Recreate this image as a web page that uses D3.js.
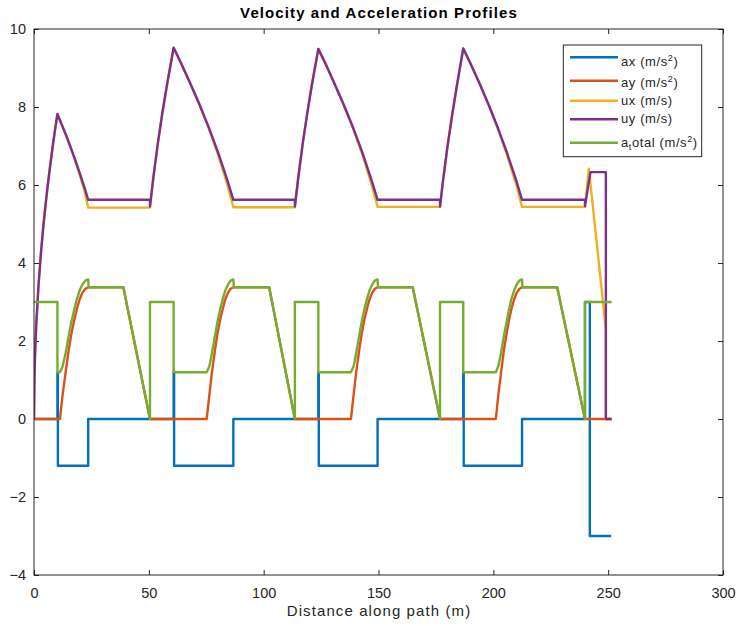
<!DOCTYPE html>
<html>
<head>
<meta charset="utf-8">
<script src="https://cdn.jsdelivr.net/npm/d3@7"></script>
<style>
  html, body { margin: 0; padding: 0; background: #fff; }
  svg { display: block; }
  text { font-family: "Liberation Sans", Arial, Helvetica, sans-serif; }
</style>
</head>
<body>
<svg id="chart" width="738" height="626"></svg>
<script>
// ---------------- DATA ----------------
const titleText = "Velocity and Acceleration Profiles";
const xLabelText = "Distance along path (m)";
const xTicks = [0, 50, 100, 150, 200, 250, 300];
const yTicks = [-4, -2, 0, 2, 4, 6, 8, 10];

const axX = [0,10.2,10.2,10.4,10.4,23.6,23.6,60.8,60.8,61.0,61.0,86.8,86.8,123.8,123.8,124.0,124.0,149.6,149.6,186.9,186.9,187.1,187.1,212.5,212.5,239.9,239.9,242.0,242.0,251.3];
const axY = [0,0,1.2,1.2,-1.2,-1.2,0,0,1.2,1.2,-1.2,-1.2,0,0,1.2,1.2,-1.2,-1.2,0,0,1.2,1.2,-1.2,-1.2,0,0,3,3,-3,-3];

const ayX = [0, 11.3,12.5,13.8,15.0,16.2,17.5,18.7,19.9,21.1,22.4,23.6, 38.9, 50.5,
  75.2,76.4,77.5,78.7,79.8,81.0,82.2,83.3,84.5,85.6,86.8, 102.4, 113.6,
  138.0,139.2,140.3,141.5,142.6,143.8,145.0,146.1,147.3,148.4,149.6, 164.9, 176.8,
  201.1,202.2,203.4,204.5,205.7,206.8,207.9,209.1,210.2,211.4,212.5, 227.8, 239.9, 251.5];
const ayY = [0, 0,0.64,1.21,1.72,2.16,2.53,2.83,3.07,3.24,3.34,3.38, 3.38, 0,
  0,0.64,1.21,1.72,2.16,2.53,2.83,3.07,3.24,3.34,3.38, 3.38, 0,
  0,0.64,1.21,1.72,2.16,2.53,2.83,3.07,3.24,3.34,3.38, 3.38, 0,
  0,0.64,1.21,1.72,2.16,2.53,2.83,3.07,3.24,3.34,3.38, 3.38, 0, 0];

const uxX = [0,0.2,0.5,1,2,3,4,5,6,7,8,9,10.2, 12,14,16,18,20,22,23.6, 50.5,
  52,54,56,58,60.8, 64,68,72,76,80,84,86.8, 113.6,
  115,117,119,121,123.8, 127,131,135,139,143,147,149.6, 176.8,
  178,180,182,184,186.9, 190,194,198,202,206,210,212.5, 239.9, 241.6, 249.0,249.0, 251.5];
const uxY = [0,1.10,1.73,2.45,3.46,4.24,4.90,5.48,6.00,6.48,6.93,7.35,7.82, 7.56,7.27,6.96,6.62,6.24,5.84,5.42, 5.42,
  6.21,7.10,7.89,8.60,9.52, 9.13,8.61,8.07,7.47,6.80,6.05,5.43, 5.43,
  6.16,7.06,7.85,8.57,9.49, 9.10,8.58,8.04,7.44,6.77,6.01,5.44, 5.44,
  6.07,6.97,7.77,8.50,9.50, 9.12,8.60,8.05,7.44,6.76,6.00,5.44, 5.44, 6.42, 2.30,0, 0];

const uyX = [0,0.2,0.5,1,2,3,4,5,6,7,8,9,10.2, 12,14,16,18,20,22,23.6, 50.5,50.5,
  52,54,56,58,60.8, 64,68,72,76,80,84,86.8, 113.6,113.6,
  115,117,119,121,123.8, 127,131,135,139,143,147,149.6, 176.8,176.8,
  178,180,182,184,186.9, 190,194,198,202,206,210,212.5, 239.9,239.9, 242.3, 249.0,249.0, 251.5];
const uyY = [0,1.10,1.73,2.45,3.46,4.24,4.90,5.48,6.00,6.48,6.93,7.35,7.82, 7.56,7.27,6.96,6.63,6.29,5.93,5.62, 5.62,5.45,
  6.21,7.10,7.89,8.60,9.52, 9.13,8.61,8.07,7.49,6.86,6.16,5.62, 5.62,5.45,
  6.16,7.06,7.85,8.57,9.49, 9.10,8.58,8.04,7.46,6.83,6.12,5.62, 5.62,5.45,
  6.07,6.97,7.77,8.50,9.50, 9.12,8.60,8.05,7.46,6.82,6.11,5.62, 5.62,5.46, 6.33, 6.33,0, 0];

const atX = [0,10.2,10.2, 11.3,12.5,13.8,15.0,16.2,17.5,18.7,19.9,21.1,22.4,23.6, 23.8, 38.9,
  50.5,50.5,60.8,60.8, 75.2,76.4,77.5,78.7,79.8,81.0,82.2,83.3,84.5,85.6,86.8, 87.0, 102.4,
  113.6,113.6,123.8,123.8, 138.0,139.2,140.3,141.5,142.6,143.8,145.0,146.1,147.3,148.4,149.6, 149.8, 164.9,
  176.8,176.8,186.9,186.9, 201.1,202.2,203.4,204.5,205.7,206.8,207.9,209.1,210.2,211.4,212.5, 212.7, 227.8,
  239.9,239.9,251.5];
const atY = [3,3,1.2, 1.2,1.36,1.70,2.10,2.47,2.80,3.08,3.30,3.45,3.55,3.58, 3.38, 3.38,
  0,3,3,1.2, 1.2,1.36,1.70,2.10,2.47,2.80,3.08,3.30,3.45,3.55,3.58, 3.38, 3.38,
  0,3,3,1.2, 1.2,1.36,1.70,2.10,2.47,2.80,3.08,3.30,3.45,3.55,3.58, 3.38, 3.38,
  0,3,3,1.2, 1.2,1.36,1.70,2.10,2.47,2.80,3.08,3.30,3.45,3.55,3.58, 3.38, 3.38,
  0,3,3];

const seriesNames = ["ax", "ay", "ux", "uy", "atotal"];
const seriesColors = ["#0072BD", "#D95319", "#EDB120", "#7E2F8E", "#77AC30"];
// legend label parts: [text, kind]
const legendLabels = [
  [["ax (m/s", ""], ["2", "sup"], [")", ""]],
  [["ay (m/s", ""], ["2", "sup"], [")", ""]],
  [["ux (m/s)", ""]],
  [["uy (m/s)", ""]],
  [["a", ""], ["t", "sub"], ["otal (m/s", ""], ["2", "sup"], [")", ""]]
];

// ---------------- LAYOUT ----------------
const W = 738, H = 626;
const plot = { left: 34, right: 723, top: 29, bottom: 575 };
const axisColor = "#262626";

const svg = d3.select("#chart");
svg.append("rect").attr("width", W).attr("height", H).attr("fill", "#fff");

const x = d3.scaleLinear().domain([0, 300]).range([plot.left, plot.right]);
const y = d3.scaleLinear().domain([-4, 10]).range([plot.bottom, plot.top]);

// axes
const tickLen = 5;
function styleAxis(g) {
  g.select(".domain").remove();
  g.selectAll(".tick line").attr("stroke", axisColor).attr("stroke-width", 1);
  g.selectAll(".tick text").attr("fill", axisColor)
    .style("font-size", "14.5px")
    .style("font-family", '"Liberation Sans", Arial, Helvetica, sans-serif');
}

svg.append("g").attr("transform", `translate(0,${plot.bottom})`)
  .call(d3.axisBottom(x).tickValues(xTicks).tickSizeInner(-tickLen).tickSizeOuter(0).tickPadding(12.5).tickFormat(d3.format("d")))
  .call(styleAxis);
svg.append("g").attr("transform", `translate(0,${plot.top})`)
  .call(d3.axisTop(x).tickValues(xTicks).tickSizeInner(-tickLen).tickSizeOuter(0).tickFormat(""))
  .call(styleAxis);
svg.append("g").attr("transform", `translate(${plot.left},0)`)
  .call(d3.axisLeft(y).tickValues(yTicks).tickSizeInner(-tickLen).tickSizeOuter(0).tickPadding(8).tickFormat(d3.format("d")))
  .call(styleAxis);
svg.append("g").attr("transform", `translate(${plot.right},0)`)
  .call(d3.axisRight(y).tickValues(yTicks).tickSizeInner(-tickLen).tickSizeOuter(0).tickFormat(""))
  .call(styleAxis);

// clip
svg.append("clipPath").attr("id", "clip").append("rect")
  .attr("x", plot.left).attr("y", plot.top)
  .attr("width", plot.right - plot.left).attr("height", plot.bottom - plot.top);

const line = d3.line().x(d => x(d[0])).y(d => y(d[1]));
const seriesData = [d3.zip(axX, axY), d3.zip(ayX, ayY), d3.zip(uxX, uxY), d3.zip(uyX, uyY), d3.zip(atX, atY)];

const gLines = svg.append("g").attr("clip-path", "url(#clip)");
seriesData.forEach((data, i) => {
  gLines.append("path")
    .datum(data)
    .attr("d", line)
    .attr("fill", "none")
    .attr("stroke", seriesColors[i])
    .attr("stroke-width", 2.4)
    .attr("stroke-linejoin", "round")
    .attr("stroke-linecap", "butt");
});

// box
svg.append("rect")
  .attr("x", plot.left).attr("y", plot.top)
  .attr("width", plot.right - plot.left).attr("height", plot.bottom - plot.top)
  .attr("fill", "none").attr("stroke", axisColor).attr("stroke-width", 1);

// title
svg.append("text")
  .attr("x", (plot.left + plot.right) / 2 + 0.5).attr("y", 18)
  .attr("text-anchor", "middle")
  .style("font-size", "15px").style("font-weight", "bold").style("letter-spacing", "1.1px")
  .attr("fill", "#000")
  .text(titleText);

// x label
svg.append("text")
  .attr("x", (plot.left + plot.right) / 2 + 0.5).attr("y", 616)
  .attr("text-anchor", "middle")
  .style("font-size", "15px").style("letter-spacing", "1.1px")
  .attr("fill", axisColor)
  .text(xLabelText);

// legend
const legBox = { x: 563.3, y: 45, w: 138.4, h: 111.7 };
const legLineY = [57.3, 80.7, 100.7, 119.3, 142.7];
const legTextY = [65.7, 87.3, 104.7, 123.3, 147.3];
const gLeg = svg.append("g");
gLeg.append("rect")
  .attr("x", legBox.x).attr("y", legBox.y).attr("width", legBox.w).attr("height", legBox.h)
  .attr("fill", "#fff").attr("stroke", axisColor).attr("stroke-width", 1);
legendLabels.forEach((parts, i) => {
  gLeg.append("line")
    .attr("x1", 570).attr("x2", 618)
    .attr("y1", legLineY[i]).attr("y2", legLineY[i])
    .attr("stroke", seriesColors[i]).attr("stroke-width", 2.4);
  const t = gLeg.append("text")
    .attr("x", 621).attr("y", legTextY[i])
    .style("font-size", "13px").style("letter-spacing", "0.6px")
    .attr("fill", axisColor);
  let shift = 0;
  parts.forEach(([s, kind]) => {
    const ts = t.append("tspan").text(s);
    let target = 0;
    if (kind === "sup") { target = -5; ts.style("font-size", "9px"); }
    if (kind === "sub") { target = 3; ts.style("font-size", "9px"); }
    ts.attr("dy", target - shift);
    shift = target;
  });
});
</script>
</body>
</html>
